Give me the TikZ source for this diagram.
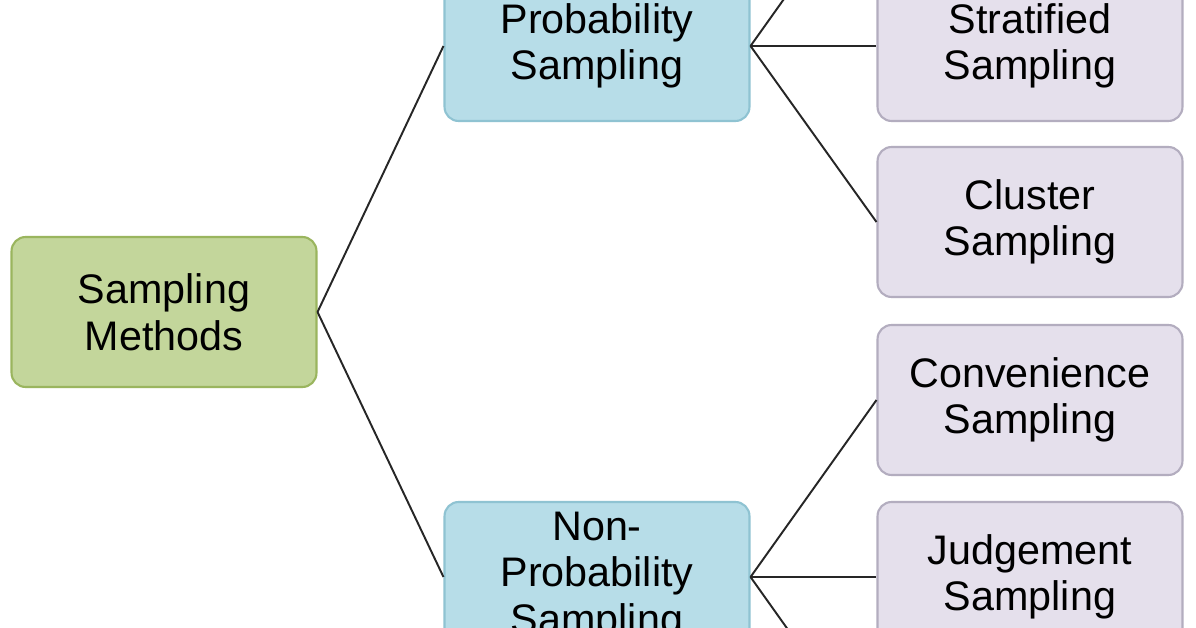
\documentclass[tikz,border=0pt]{standalone}
\usepackage{fontspec}
\setmainfont{Liberation Sans}
\usepackage{xcolor}
\usetikzlibrary{positioning}
\definecolor{RootBackground}{HTML}{C3D69B}
\definecolor{RootBorder}{HTML}{9AB55E}
\definecolor{GroupBackground}{HTML}{B7DDE8}
\definecolor{GroupBorder}{HTML}{8FC3D2}
\definecolor{MethodBackground}{HTML}{E5E0EC}
\definecolor{MethodBorder}{HTML}{B3ADBF}
\tikzstyle{BoxNode} =[draw,line width=1.2pt,rounded corners=8pt,minimum width=6.1cm,minimum height=3.0cm,align=center,inner sep=0pt,font=\fontsize{23.5}{26.5}\selectfont]
\tikzstyle{RootNode} =[BoxNode,fill=RootBackground,draw=RootBorder]
\tikzstyle{GroupNode} =[BoxNode,fill=GroupBackground,draw=GroupBorder]
\tikzstyle{MethodNode} =[BoxNode,fill=MethodBackground,draw=MethodBorder]
\begin{document}
\begin{tikzpicture}[x=0.02cm,y=-0.02cm,line width=1.1pt]
    \useasboundingbox (0,0) rectangle (1196,628);
    \clip (0,0) rectangle (1196,628);
    \fill[white] (0,0) rectangle (1196,628);

    \node[RootNode](Sampling-Methods) at (164,312){Sampling\\Methods};
    \node[GroupNode](Probability-Sampling) at (597,46){Probability\\Sampling};
    \node[GroupNode](Non-Probability-Sampling) at (597,577){Non-\\Probability\\Sampling};

    \node[MethodNode](Upper-Method) at (1030,-131){};
    \node[MethodNode](Stratified-Sampling) at (1030,46){Stratified\\Sampling};
    \node[MethodNode](Cluster-Sampling) at (1030,222){Cluster\\Sampling};
    \node[MethodNode](Convenience-Sampling) at (1030,400){Convenience\\Sampling};
    \node[MethodNode](Judgement-Sampling) at (1030,577){Judgement\\Sampling};
    \node[MethodNode](Lower-Method) at (1030,754){};

    \draw[black!85] (Sampling-Methods.east) -- (Probability-Sampling.west);
    \draw[black!85] (Sampling-Methods.east) -- (Non-Probability-Sampling.west);

    \draw[black!85] (Probability-Sampling.east) -- (Upper-Method.west);
    \draw[black!85] (Probability-Sampling.east) -- (Stratified-Sampling.west);
    \draw[black!85] (Probability-Sampling.east) -- (Cluster-Sampling.west);

    \draw[black!85] (Non-Probability-Sampling.east) -- (Convenience-Sampling.west);
    \draw[black!85] (Non-Probability-Sampling.east) -- (Judgement-Sampling.west);
    \draw[black!85] (Non-Probability-Sampling.east) -- (Lower-Method.west);
\end{tikzpicture}
\end{document}
